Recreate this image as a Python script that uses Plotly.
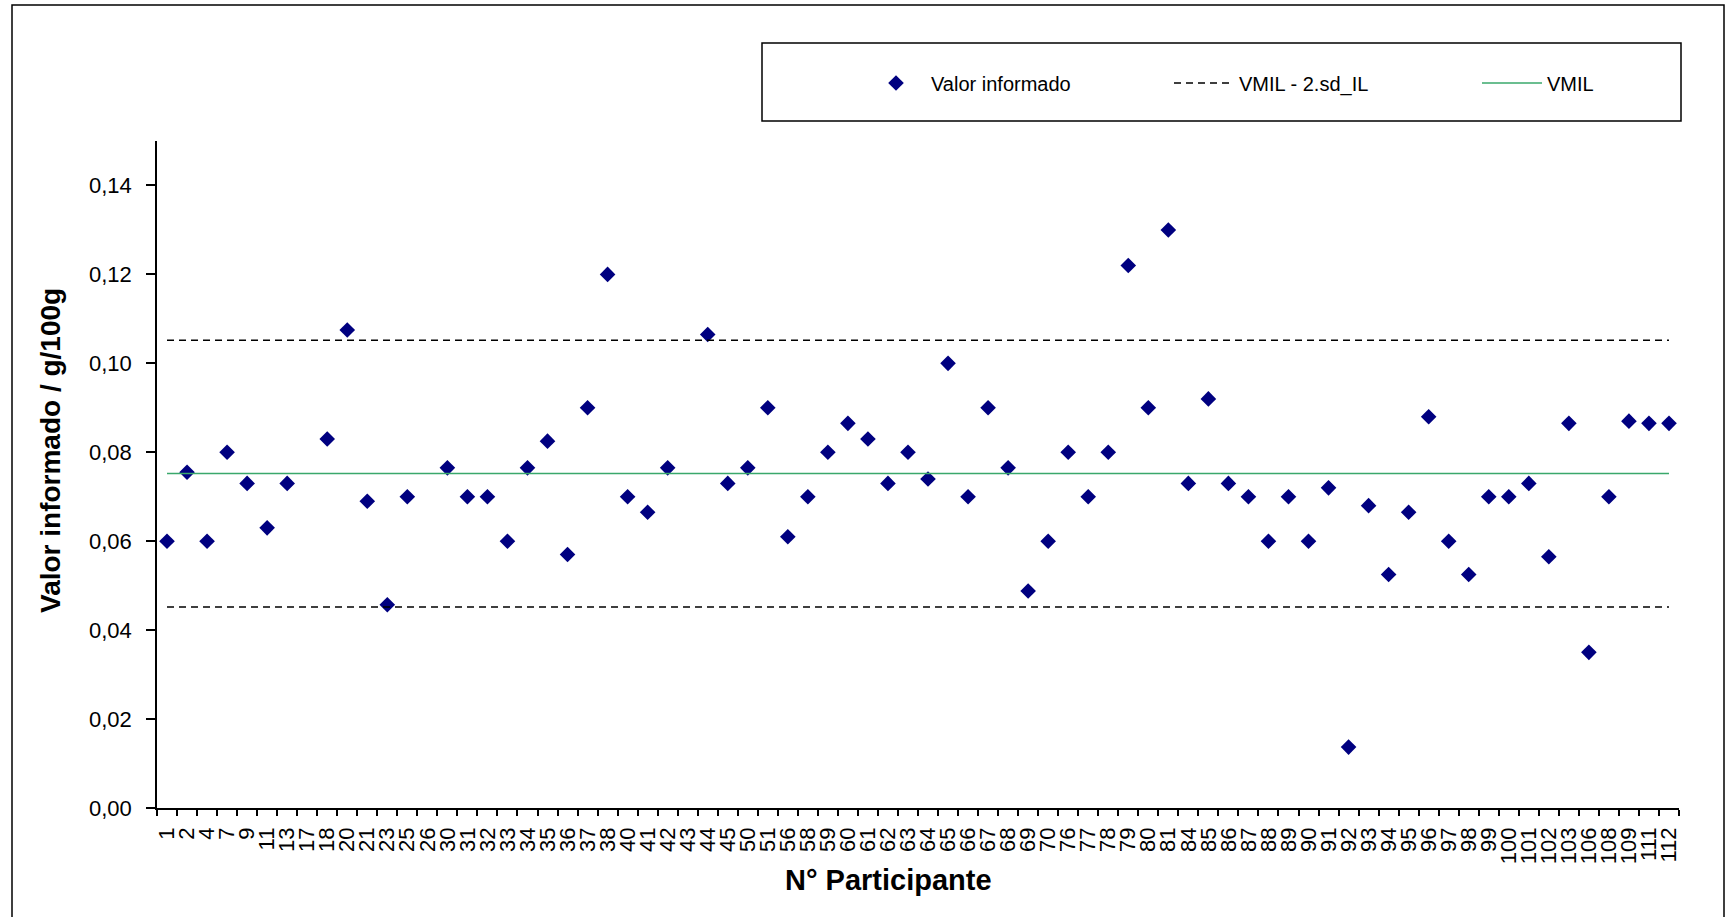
import plotly.graph_objects as go

# Participant numbers (category axis)
participantes = [
    "1", "2", "4", "7", "9", "11", "13", "17", "18", "20", "21", "23", "25", "26",
    "30", "31", "32", "33", "34", "35", "36", "37", "38", "40", "41", "42", "43",
    "44", "45", "50", "51", "56", "58", "59", "60", "61", "62", "63", "64", "65",
    "66", "67", "68", "69", "70", "76", "77", "78", "79", "80", "81", "84", "85",
    "86", "87", "88", "89", "90", "91", "92", "93", "94", "95", "96", "97", "98",
    "99", "100", "101", "102", "103", "106", "108", "109", "111", "112",
]

# Reported values, g/100g (None = no result reported)
valor_informado = [
    0.060, 0.0755, 0.060, 0.080, 0.073, 0.063, 0.073, None, 0.083, 0.1075, 0.069,
    0.0457, 0.070, None, 0.0765, 0.070, 0.070, 0.060, 0.0765, 0.0825, 0.057,
    0.090, 0.120, 0.070, 0.0665, 0.0765, None, 0.1065, 0.073, 0.0765, 0.090,
    0.061, 0.070, 0.080, 0.0865, 0.083, 0.073, 0.080, 0.074, 0.100, 0.070,
    0.090, 0.0765, 0.0488, 0.060, 0.080, 0.070, 0.080, 0.122, 0.090, 0.130,
    0.073, 0.092, 0.073, 0.070, 0.060, 0.070, 0.060, 0.072, 0.0137, 0.068,
    0.0525, 0.0665, 0.088, 0.060, 0.0525, 0.070, 0.070, 0.073, 0.0565, 0.0865,
    0.035, 0.070, 0.087, 0.0865, 0.0865,
]

# Reference value and limits
VMIL = 0.0752
SD_IL = 0.015
limite_inferior = VMIL - 2 * SD_IL
limite_superior = VMIL + 2 * SD_IL

y_ticks = [0.00, 0.02, 0.04, 0.06, 0.08, 0.10, 0.12, 0.14]

FONT = "Liberation Sans, Arial, sans-serif"
W, H = 1727, 917
ML, MR, MT, MB = 157, 48, 141, 109
PW = W - ML - MR
PH = H - MT - MB


def px(x):
    return (x - ML) / PW


def py(y):
    return (H - MB - y) / PH


n = len(participantes)

fig = go.Figure()

fig.add_trace(go.Scatter(
    x=participantes, y=valor_informado, mode="markers", name="Valor informado",
    marker=dict(symbol="diamond", size=12, color="#000080"),
))
fig.add_trace(go.Scatter(
    x=participantes, y=[limite_inferior] * n, mode="lines", name="VMIL - 2.sd_IL",
    line=dict(color="black", width=1.5, dash="7px,5px"),
))
fig.add_trace(go.Scatter(
    x=participantes, y=[limite_superior] * n, mode="lines", name="VMIL + 2.sd_IL",
    line=dict(color="black", width=1.5, dash="7px,5px"), showlegend=False,
))
fig.add_trace(go.Scatter(
    x=participantes, y=[VMIL] * n, mode="lines", name="VMIL",
    line=dict(color="#3aa86b", width=1.5),
))

fig.update_layout(
    width=W, height=H,
    margin=dict(l=ML, r=MR, t=MT, b=MB, pad=0, autoexpand=False),
    paper_bgcolor="white", plot_bgcolor="white",
    separators=",.",
    font=dict(family=FONT, color="black", size=21),
    showlegend=True,
    legend=dict(
        orientation="h", x=px(861), xanchor="left", y=py(83), yanchor="middle",
        font=dict(size=20, family=FONT, color="black"),
        bgcolor="rgba(0,0,0,0)", borderwidth=0,
        itemwidth=60,
        entrywidth=233, entrywidthmode="pixels",
        traceorder="normal",
    ),
    shapes=[
        # outer frame
        dict(type="rect", xref="paper", yref="paper",
             x0=px(12), x1=px(1724), y0=py(935), y1=py(5),
             line=dict(color="black", width=1.5), layer="below"),
        # legend frame
        dict(type="rect", xref="paper", yref="paper",
             x0=px(762), x1=px(1681), y0=py(121), y1=py(43),
             line=dict(color="black", width=1.5), layer="below"),
    ],
    annotations=[
        dict(text="<b>Valor informado / g/100g</b>", xref="paper", yref="paper",
             x=px(50), y=py(451), xanchor="center", yanchor="middle",
             textangle=-90, showarrow=False, font=dict(size=28, family=FONT)),
        dict(text="<b>N° Participante</b>", xref="paper", yref="paper",
             x=px(888), y=py(880), xanchor="center", yanchor="middle",
             showarrow=False, font=dict(size=29, family=FONT)),
    ],
)

fig.update_xaxes(
    type="category", range=[-0.5, n - 0.5], dtick=1,
    showline=True, linecolor="black", linewidth=1.5,
    ticks="outside", ticklen=6, tickwidth=1.5, tickcolor="black",
    tickson="boundaries", tickangle=-90,
    tickfont=dict(size=22, family=FONT), ticklabelstandoff=9,
    showgrid=False, zeroline=False,
)
fig.update_yaxes(
    range=[0, 0.15], tickvals=y_ticks, tickformat=".2f",
    showline=True, linecolor="black", linewidth=1.5,
    ticks="outside", ticklen=9, tickwidth=1.5, tickcolor="black",
    tickfont=dict(size=22, family=FONT), ticklabelstandoff=10,
    showgrid=False, zeroline=False,
)

fig.write_html("out.html")
